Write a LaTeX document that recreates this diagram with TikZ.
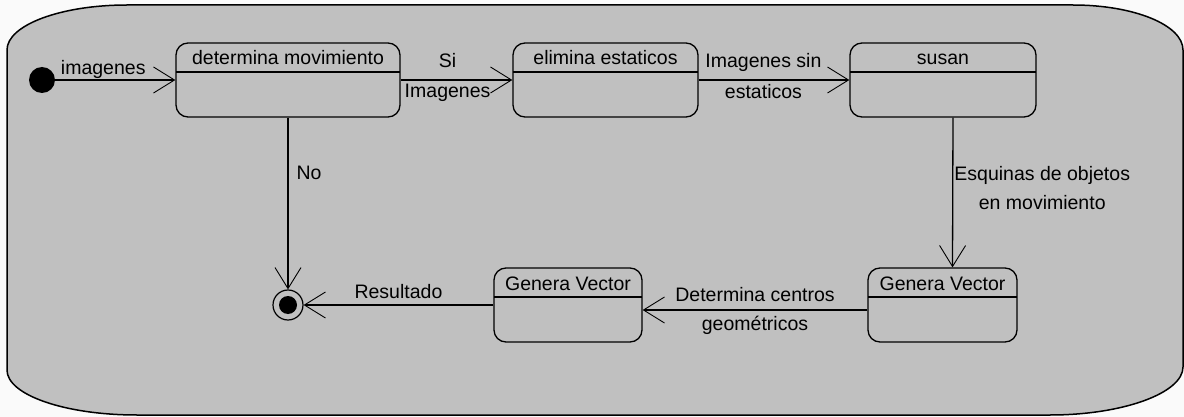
\documentclass[tikz,border=0pt]{standalone}
\usepackage{fontspec}
\setmainfont{Liberation Sans}
\usepackage{xcolor}
\usepackage{tikz}
\usetikzlibrary{arrows.meta}
\usetikzlibrary{calc}
\definecolor{umlgrey}{HTML}{C0C0C0}
\definecolor{pagewhite}{HTML}{FAFAFA}
\tikzset{>=latex}

\begin{document}
\begin{tikzpicture}[
        x=1pt, y=-1pt,
        font=\fontsize{19.5}{23}\selectfont,
        statebox/.style={draw, line width=1.3pt, rounded corners=12pt,
            minimum width=#1, minimum height=74pt, inner xsep=2pt, inner ysep=0pt,
            text height=22pt, text depth=52pt,
            path picture={\draw[line width=1.3pt]
                ([yshift=-29pt]path picture bounding box.north west) --
                ([yshift=-29pt]path picture bounding box.north east);}},
        flow/.style={line width=1.3pt, -{Straight Barb[length=21pt, width=26pt, line width=0.9pt]}},
        lbl/.style={inner sep=0pt, text height=14pt, text depth=4pt}
    ]

    %=== Frame ===%
    \useasboundingbox (0,0) rectangle (1184,417);
    \fill[pagewhite] (0,0) rectangle (1184,417);
    \draw[line width=1.5pt, fill=umlgrey]
        (127,5) -- (1073,5)
        .. controls (1134,5) and (1183,25) .. (1183,50)
        -- (1183,367)
        .. controls (1183,393) and (1123,415) .. (1050,415)
        -- (137,415)
        .. controls (65,415) and (7,395) .. (7,370)
        -- (7,50)
        .. controls (7,25) and (61,5) .. cycle;

    %=== States ===%
    \node[circle, fill=black, minimum size=26pt, inner sep=0pt] (init) at (42,80) {};
    \node[statebox=224pt] (detmov) at (288,80) {determina movimiento};
    \node[statebox=185pt] (elimina) at (605.5,80) {elimina estaticos};
    \node[statebox=186pt] (susan) at (943,80) {susan};
    \node[statebox=149pt] (vecder) at (942.5,305) {Genera Vector};
    \node[statebox=148pt] (vecizq) at (568,305) {Genera Vector};
    \node[circle, draw, line width=1.2pt, minimum size=30pt, inner sep=0pt,
        path picture={\fill (path picture bounding box.center) circle (9pt);}] (fin) at (288,305) {};

    %=== Transitions ===%
    \draw[flow] (init) -- (detmov) node[lbl, pos=0.4, above=1pt] {imagenes};
    \draw[flow] (detmov) -- (elimina)
        node[lbl, pos=0.42, above=8pt] {Si}
        node[lbl, pos=0.42, below=3pt] {Imagenes};
    \draw[flow] (elimina) -- (susan)
        node[lbl, pos=0.43, above=8pt] {Imagenes sin}
        node[lbl, pos=0.43, below=4pt] {estaticos};
    \draw[flow] ([xshift=10pt]susan.south) -- ([xshift=10pt]vecder.north)
        node[pos=0.47, right=1pt, inner sep=0pt, align=center,
            font=\fontsize{19.5}{29}\selectfont] {Esquinas de objetos\\en movimiento};
    \draw[flow] ([yshift=-5pt]vecder.west) -- ([yshift=-5pt]vecizq.east)
        node[lbl, midway, above=4pt] {Determina centros}
        node[lbl, midway, below=6pt] {geométricos};
    \draw[flow] (vecizq) -- (fin) node[lbl, midway, above=2pt] {Resultado};
    \draw[flow] (detmov) -- (fin) node[lbl, pos=0.33, right=8pt] {No};

\end{tikzpicture}
\end{document}
